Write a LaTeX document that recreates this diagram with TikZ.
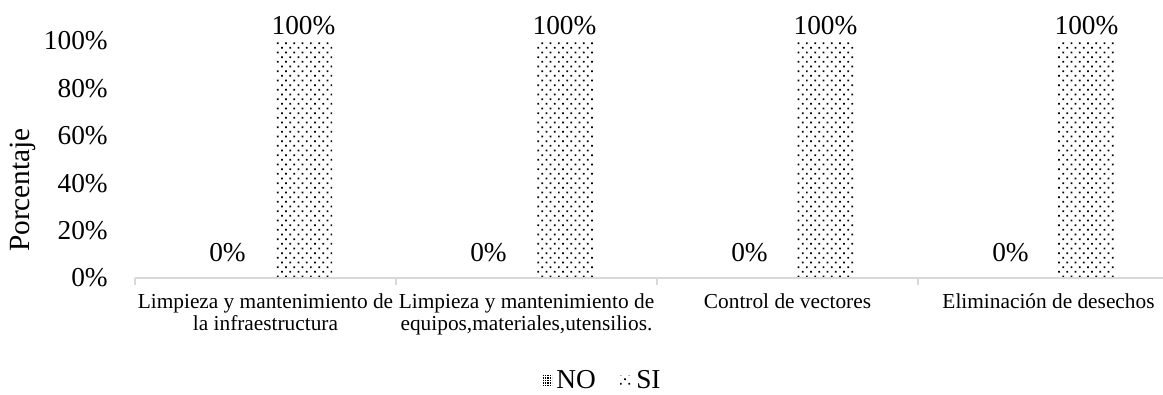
\documentclass[tikz,border=0pt]{standalone}
\usepackage{fontspec}
\setmainfont{Liberation Serif}
\usetikzlibrary{patterns}

% dot fills of the two series
\pgfdeclarepatternformonly{sidots}{\pgfqpoint{-1pt}{-1pt}}{\pgfqpoint{7pt}{8pt}}{\pgfqpoint{6.2pt}{7pt}}{
  \pgfpathrectangle{\pgfqpoint{0pt}{0pt}}{\pgfqpoint{1.3pt}{1.3pt}}
  \pgfpathrectangle{\pgfqpoint{3.1pt}{3.5pt}}{\pgfqpoint{1.3pt}{1.3pt}}
  \pgfusepath{fill}
}
\pgfdeclarepatternformonly{nodots}{\pgfqpoint{-0.5pt}{-0.5pt}}{\pgfqpoint{2.5pt}{2.5pt}}{\pgfqpoint{1.9pt}{1.9pt}}{
  \pgfpathrectangle{\pgfqpoint{0pt}{0pt}}{\pgfqpoint{1.1pt}{1.1pt}}
  \pgfusepath{fill}
}

\tikzset{
  axisline/.style={draw=black!15, line width=1.1pt},
  sibar/.style={pattern=sidots, pattern color=black},
  nobar/.style={pattern=nodots, pattern color=black},
  ticklabel/.style={anchor=east, inner sep=0pt, font=\fontsize{20.5}{24}\selectfont},
  barlabel/.style={inner sep=0pt, font=\fontsize{20.5}{24}\selectfont},
  catlabel/.style={anchor=north, inner sep=0pt, align=center, font=\fontsize{16}{16.5}\selectfont},
  legendtext/.style={anchor=west, inner sep=0pt, font=\fontsize{20.5}{24}\selectfont}
}

\begin{document}
\begin{tikzpicture}[x=0.75pt, y=-0.75pt]
    \useasboundingbox (0,0) rectangle (1163,394);

    % value axis
    \node[ticklabel] (y100) at (108,41) {100\%};
    \node[ticklabel] (y80) at (108,88.4) {80\%};
    \node[ticklabel] (y60) at (108,135.8) {60\%};
    \node[ticklabel] (y40) at (108,183.2) {40\%};
    \node[ticklabel] (y20) at (108,230.6) {20\%};
    \node[ticklabel] (y0) at (108,278) {0\%};
    \node[rotate=90, inner sep=0pt, font=\fontsize{22}{24}\selectfont] (ytitle) at (23,190) {Porcentaje};

    % bars, data labels and categories
    \foreach \c/\n/\t in {265.5/a/{Limpieza y mantenimiento de\\la infraestructura},
                          526.5/b/{Limpieza y mantenimiento de\\equipos,materiales,utensilios.},
                          787.5/c/{Control de vectores},
                          1048.5/d/{Eliminación de desechos}}{
        \path[sibar] (\c+38-28.5,41) rectangle (\c+38+28.5,278);
        \node[barlabel] (si\n) at (\c+38,26) {100\%};
        \node[barlabel] (no\n) at (\c-38,253) {0\%};
        \node[catlabel] (cat\n) at (\c,293) {\t};
    }

    % category axis
    \coordinate (axl) at (135,278);
    \coordinate (axr) at (1163,278);
    \draw[axisline] (axl) -- (axr);
    \foreach \x in {135,396,657,918}
        \draw[axisline] (\x,278) -- (\x,285);

    % legend
    \path[nobar] (543,375) rectangle (552,385);
    \node[legendtext] (legno) at (556,380) {NO};
    \path[sibar] (620,375) rectangle (632,385);
    \node[legendtext] (legsi) at (636,380) {SI};
\end{tikzpicture}
\end{document}
